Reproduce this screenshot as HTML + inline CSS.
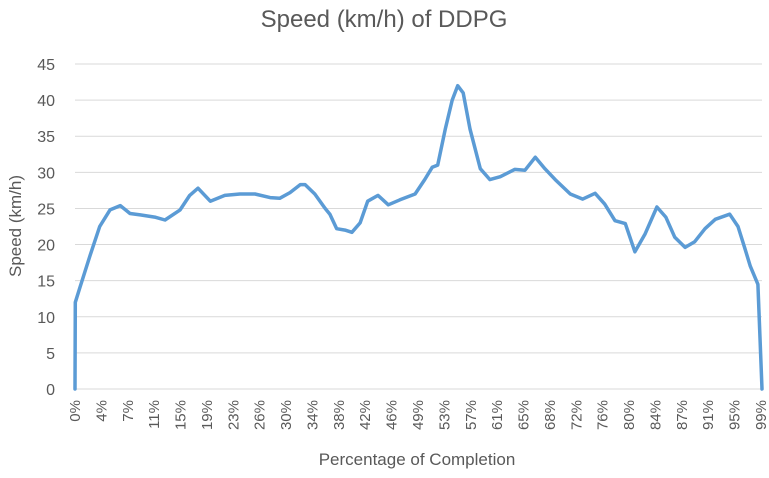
<!DOCTYPE html>
<html><head><meta charset="utf-8"><style>
body{margin:0;background:#fff;font-family:"Liberation Sans",sans-serif;}
svg text{fill:#595959;font-family:"Liberation Sans",sans-serif;}
</style></head><body>
<svg id="chart" width="769" height="473">
<text x="384" y="27" font-size="24" text-anchor="middle">Speed (km/h) of DDPG</text>
<text transform="translate(21,226) rotate(-90)" font-size="17" text-anchor="middle">Speed (km/h)</text>
<text x="417" y="465" font-size="17" text-anchor="middle">Percentage of Completion</text>
<g id="grid"></g><g id="yticks"></g><g id="xticks"></g><g id="series"></g>
</svg>
<script>
const pct=[0,0.05,0.7,2.2,3.6,5.1,6.6,8.0,9.5,11.6,13.1,15.3,16.7,17.9,19.7,21.8,24.0,26.2,28.4,29.8,31.3,32.8,33.5,34.9,36.4,37.1,38.1,39.3,40.3,41.5,42.6,44.1,45.6,47.3,49.5,50.9,52.0,52.8,53.9,54.9,55.7,56.5,57.5,59.0,60.4,61.9,64.0,65.5,67.0,68.4,69.9,72.1,73.9,75.7,77.1,78.6,80.1,81.5,83.0,84.7,86.0,87.3,88.8,90.2,91.7,93.2,95.3,96.5,97.5,98.3,99.4,100];
const speed=[0,12,14,18.5,22.5,24.8,25.4,24.3,24.1,23.8,23.4,24.8,26.8,27.8,26,26.8,27,27,26.5,26.4,27.2,28.3,28.3,27,25,24.2,22.2,22,21.7,23,26,26.8,25.5,26.2,27,29,30.7,31,36,40,42,41,36,30.5,29,29.4,30.4,30.3,32.1,30.5,29,27,26.3,27.1,25.6,23.3,22.9,19,21.5,25.2,23.8,21,19.6,20.4,22.2,23.5,24.2,22.5,19.5,17,14.5,0];
const yTicks=[0,5,10,15,20,25,30,35,40,45];
const xLabels=["0%","4%","7%","11%","15%","19%","23%","26%","30%","34%","38%","42%","46%","49%","53%","57%","61%","65%","68%","72%","76%","80%","84%","87%","91%","95%","99%"];
const NS="http://www.w3.org/2000/svg";
const x0=75,x1=762,y0=389,y1=64;
const xs=p=>x0+(x1-x0)*p/100;
const ys=v=>y0-(y0-y1)*v/45;
function mk(t,a,parent){const e=document.createElementNS(NS,t);for(const k in a)e.setAttribute(k,a[k]);parent.appendChild(e);return e;}
const grid=document.getElementById('grid'),yt=document.getElementById('yticks'),xt=document.getElementById('xticks'),ser=document.getElementById('series');
yTicks.forEach(v=>{
 const l=mk('line',{x1:x0,x2:x1,y1:ys(v),y2:ys(v),stroke:'#d9d9d9','stroke-width':1},grid);
 
 
 const t=mk('text',{x:55,y:ys(v)+6,'font-size':16,'text-anchor':'end'},yt);t.textContent=v;
 
 
});
xLabels.forEach((s,i)=>{
 const x=x0+i*(x1-1-x0)/(xLabels.length-1);
 const t=mk('text',{transform:`translate(${x+5},400) rotate(-90)`,'font-size':15,'text-anchor':'end'},xt);t.textContent=s;
 
 
});
const pts=pct.map((p,i)=>xs(p).toFixed(1)+','+ys(speed[i]).toFixed(1)).join(' ');
const pl=mk('polyline',{points:pts,fill:'none',stroke:'#5b9bd5','stroke-width':3.5,'stroke-linejoin':'round','stroke-linecap':'round'},ser);


</script>
</body></html>
